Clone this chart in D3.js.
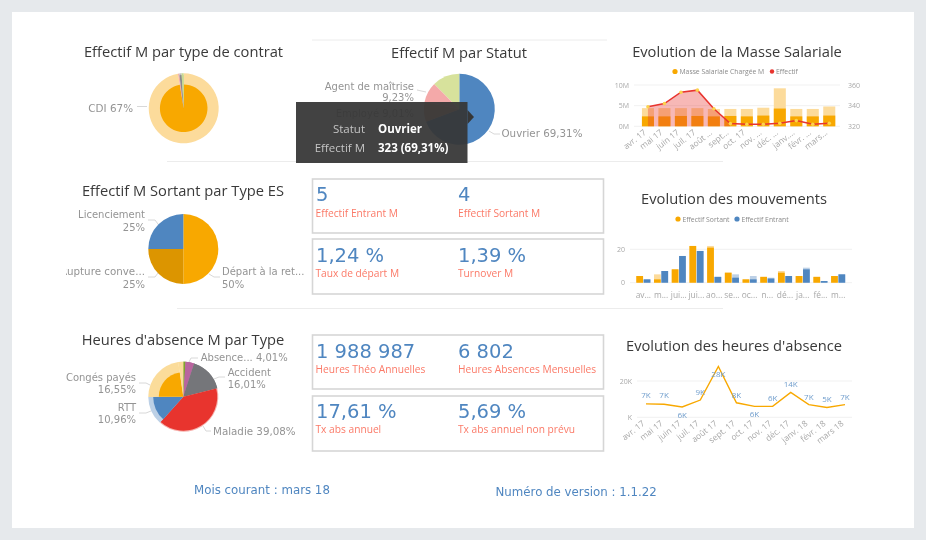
<!DOCTYPE html>
<html>
<head>
<meta charset="utf-8">
<script src="https://cdn.jsdelivr.net/npm/d3@7"></script>
<style>
  html, body { margin: 0; padding: 0; background: #e6e9ec; }
  svg { display: block; filter: blur(0.35px); }
  .title { font-family: "Open Sans", sans-serif; font-size: 14.7px; fill: #3a3a3a; text-anchor: middle; }
  .lbl { font-family: "DejaVu Sans", sans-serif; font-size: 10px; fill: #949494; }
  .kpi { font-family: "DejaVu Sans", sans-serif; font-size: 19.5px; fill: #4f86c0; }
  .kpil { font-family: "Open Sans", sans-serif; font-size: 10.2px; fill: #fb7a68; }
  .foot { font-family: "DejaVu Sans", sans-serif; font-size: 11.8px; fill: #4f86c0; }
  .leg { font-family: "Open Sans", sans-serif; font-size: 6.8px; fill: #8a8a8a; }
  .axis text { font-family: "Open Sans", sans-serif; font-size: 8.4px; fill: #a8a8a8; }
  .axis.yax text { font-size: 7px; }
</style>
</head>
<body>
<svg id="page" width="926" height="540"></svg>
<script>
// data
const months = ["avr. 17", "mai 17", "juin 17", "juil. 17", "août 17", "sept. 17", "oct. 17", "nov. 17", "déc. 17", "janv. 18", "févr. 18", "mars 18"];
const monthsShort1 = ["avr. 17", "mai 17", "juin 17", "juil. 17", "août ...", "sept...", "oct. 17", "nov. ...", "déc. ...", "janv....", "févr. ...", "mars..."];
const monthsShort2 = ["av...", "m...", "jui...", "jui...", "ao...", "se...", "oc...", "n...", "dé...", "ja...", "fé...", "m..."];

const masseTotal = [4.4, 4.4, 4.4, 4.4, 4.2, 4.2, 4.2, 4.5, 9.2, 4.2, 4.2, 4.8];
const masseSel = [2.4, 2.4, 2.5, 2.5, 2.4, 2.5, 2.4, 2.6, 4.3, 2.4, 2.4, 2.6];
const effectif = [339, 342, 353, 355, 337, 322.6, 322, 322, 323, 325.5, 322, 323];

const sortantTotal = [4, 5, 8, 22, 22, 6, 2, 3.5, 7, 4, 3.5, 4];
const sortantSel = [4, 2, 8, 22, 21, 6, 2, 3.5, 6, 4, 3.5, 4];
const entrantTotal = [2, 7, 16, 19, 3.5, 5, 4, 3, 4, 9, 1, 5];
const entrantSel = [2, 7, 16, 19, 3.5, 3, 2, 2.5, 4, 8, 1, 5];

const absences = [7.4, 7.2, 5.7, 9.5, 28, 8, 6, 6, 13.7, 7, 5.4, 7];
const absenceLabels = ["7K", "7K", "6K", "9K", "28K", "8K", "6K", "6K", "14K", "7K", "5K", "7K"];
const absenceLabelDy = [-6, -6, 11, -5, 11, -5, 11, -5, -5, -5, -5, -5];

const contratValues = [97.4, 0.6, 1.0, 1.0];
const contratColors = ["#f8a800", "#f4a6a6", "#8a8a8a", "#c8d890"];
const statutValues = [69.31, 9.01, 9.23, 12.45];
const statutColors = ["#4f86c0", "#e6a08c", "#f4a9a9", "#d7e29c"];
const sortieValues = [50, 25, 25];
const sortieColors = ["#f8a800", "#dc9500", "#4f86c0"];
const heuresValues = [1.0, 4.0, 16.1, 40.5, 13.3, 22.8, 2.3];
const heuresColors = ["#7fa52c", "#b9659f", "#75767a", "#e8342e", "#4f86c0", "#f8a800", "#fbdc9a"];
const heuresLight = ["#7fa52c", "#b9659f", "#75767a", "#f6b0ac", "#bcd0e6", "#fbdc9a", "#fbdc9a"];
const heuresInner = [1, 1, 1, 0.97, 0.86, 0.7, 1];

const kpiValues = ["5", "4", "1,24 %", "1,39 %", "1 988 987", "6 802", "17,61 %", "5,69 %"];
const kpiLabels = ["Effectif Entrant M", "Effectif Sortant M", "Taux de départ M", "Turnover M", "Heures Théo Annuelles", "Heures Absences Mensuelles", "Tx abs annuel", "Tx abs annuel non prévu"];

const svg = d3.select("#page");
svg.append("rect").attr("x", 12).attr("y", 12).attr("width", 902).attr("height", 516).attr("fill", "#fff");

// separators
[[312, 607, 40], [167, 723, 161.5], [177, 723, 308.5]].forEach(function (s) {
    svg.append("line").attr("x1", s[0]).attr("x2", s[1]).attr("y1", s[2]).attr("y2", s[2])
        .attr("stroke", "#ececec").attr("stroke-width", 1);
});

function title(txt, x, y) {
    svg.append("text").attr("class", "title").attr("x", x).attr("y", y).text(txt);
}
title("Effectif M par type de contrat", 183.5, 57);
title("Effectif M par Statut", 459, 58);
title("Evolution de la Masse Salariale", 737, 57);
title("Effectif M Sortant par Type ES", 183, 196);
title("Evolution des mouvements", 734, 204);
title("Heures d'absence M par Type", 183, 345);
title("Evolution des heures d'absence", 734, 351);

function label(parent, txt, x, y, anchor) {
    return parent.append("text").attr("class", "lbl").attr("x", x).attr("y", y)
        .attr("text-anchor", anchor || "start").text(txt);
}
function leader(parent, pts) {
    parent.append("path").attr("d", d3.line()(pts)).attr("fill", "none")
        .attr("stroke", "#d8d8d8").attr("stroke-width", 1);
}

// pies
function drawPie(cx, cy, values, colors, light, inner, r) {
    const g = svg.append("g").attr("transform", "translate(" + cx + "," + cy + ")");
    const arcs = d3.pie().sort(null)(values);
    g.selectAll("path.full").data(arcs).enter().append("path").attr("class", "full")
        .attr("d", d3.arc().innerRadius(0).outerRadius(r))
        .attr("fill", function (d, i) { return light ? light[i] : colors[i]; });
    if (inner) {
        g.selectAll("path.sel").data(arcs).enter().append("path").attr("class", "sel")
            .attr("d", function (d, i) { return d3.arc().innerRadius(0).outerRadius(r * inner[i])(d); })
            .attr("fill", function (d, i) { return colors[i]; });
    }
}
drawPie(183.7, 108.3, contratValues, contratColors,
    ["#fcdb9b", "#f4a6a6", "#bcbcbc", "#c8d890"], [0.68, 0.68, 0.95, 0.95], 35);
drawPie(459.3, 109.3, statutValues, statutColors, null, null, 35.5);
drawPie(183.3, 249, sortieValues, sortieColors, null, null, 35);
drawPie(183.3, 396.7, heuresValues, heuresColors, heuresLight, heuresInner, 35);

label(svg, "CDI 67%", 133, 111.5, "end").style("font-size", "10.4px");
leader(svg, [[137, 106.5], [147, 106.5]]);

label(svg, "Agent de maîtrise", 414, 89.5, "end");
label(svg, "9,23%", 414, 101, "end");
leader(svg, [[417, 90], [426, 92]]);
label(svg, "Employé 9,01%", 414, 117, "end");
label(svg, "Ouvrier 69,31%", 501.5, 137).style("font-size", "10.3px");
leader(svg, [[489, 131], [494, 134], [500, 134]]);

const clipRupture = svg.append("clipPath").attr("id", "clipRupture");
clipRupture.append("rect").attr("x", 66).attr("y", 260).attr("width", 90).attr("height", 20);
label(svg, "Licenciement", 145, 218, "end");
label(svg, "25%", 145, 231, "end");
leader(svg, [[148, 220], [155, 220], [158, 224]]);
label(svg, "Rupture conve...", 145, 275, "end").attr("clip-path", "url(#clipRupture)").style("font-size", "10.3px");
label(svg, "25%", 145, 288, "end");
leader(svg, [[148, 277], [155, 277], [158, 273]]);
label(svg, "Départ à la ret...", 222, 275);
label(svg, "50%", 222, 288);
leader(svg, [[209, 274], [214, 277], [220, 277]]);

label(svg, "Absence... 4,01%", 200.7, 361);
leader(svg, [[189, 362], [191, 358], [198, 358]]);
label(svg, "Accident", 227.7, 376);
label(svg, "16,01%", 227.7, 388);
leader(svg, [[214, 379], [219, 377], [225, 377]]);
label(svg, "Maladie 39,08%", 213, 435).style("font-size", "10.3px");
leader(svg, [[203, 426], [206, 431], [211, 431]]);
label(svg, "Congés payés", 136, 381, "end");
label(svg, "16,55%", 136, 393, "end");
leader(svg, [[139, 383], [146, 383], [150, 385]]);
label(svg, "RTT", 136, 411, "end");
label(svg, "10,96%", 136, 423, "end");
leader(svg, [[139, 413], [146, 413], [151, 411]]);

// tooltip goes over pie 2
svg.append("rect").attr("x", 296).attr("y", 102).attr("width", 171.5).attr("height", 61)
    .attr("fill", "#363636").attr("fill-opacity", 0.94);
svg.append("path").attr("d", "M467.5,110L474,117L467.5,124Z").attr("fill", "#363636");
function tip(txt, x, y, anchor, col, weight) {
    svg.append("text").attr("x", x).attr("y", y).attr("text-anchor", anchor)
        .attr("fill", col).attr("font-weight", weight)
        .attr("font-family", "'Open Sans', sans-serif").attr("font-size", 11.5).text(txt);
}
tip("Statut", 365, 133, "end", "#c4c4c4", 400);
tip("Ouvrier", 378, 133, "start", "#fff", 700);
tip("Effectif M", 365, 152, "end", "#c4c4c4", 400);
tip("323 (69,31%)", 378, 152, "start", "#fff", 700);

// KPI cards
const cardY = [179, 239, 335, 396];
const cardH = [54, 55, 54, 55];
const valueY = [201, 262, 358, 418];
const labelY = [216.5, 277, 372.5, 433];
cardY.forEach(function (y, i) {
    svg.append("rect").attr("x", 312.5).attr("y", y).attr("width", 291).attr("height", cardH[i])
        .attr("fill", "none").attr("stroke", "#d6d6d6").attr("stroke-width", 1.6);
    [0, 1].forEach(function (c) {
        const x = c === 0 ? 316 : 458;
        svg.append("text").attr("class", "kpi").attr("x", x).attr("y", valueY[i]).text(kpiValues[i * 2 + c]);
        svg.append("text").attr("class", "kpil").attr("x", c === 0 ? 315.5 : 458).attr("y", labelY[i]).text(kpiLabels[i * 2 + c]);
    });
});

svg.append("text").attr("class", "foot").attr("x", 194).attr("y", 493.5).text("Mois courant : mars 18");
svg.append("text").attr("class", "foot").attr("x", 495.5).attr("y", 496).text("Numéro de version : 1.1.22");

function hideDomain(g) {
    g.select(".domain").remove();
    g.selectAll(".tick line").remove();
}
function rotateLabels(g) {
    g.selectAll(".tick text").attr("text-anchor", "end").attr("dx", 0).attr("dy", 0)
        .attr("transform", "translate(-3,5) rotate(-38)");
}
function grid(scale, ticks, x1, x2) {
    ticks.forEach(function (t) {
        svg.append("line").attr("x1", x1).attr("x2", x2).attr("y1", scale(t)).attr("y2", scale(t))
            .attr("stroke", "#f1f1f1");
    });
}

// Masse salariale
const x1 = d3.scaleBand().domain(d3.range(12)).range([639.7, 837.5]).paddingInner(0.27).paddingOuter(0.135);
const y1 = d3.scaleLinear().domain([0, 10]).range([126.3, 85]);
const y1r = d3.scaleLinear().domain([320, 360]).range([126.3, 85]);
grid(y1, [0, 5, 10], 634, 840);
svg.selectAll("rect.mt").data(masseTotal).enter().append("rect").attr("class", "mt")
    .attr("x", function (d, i) { return x1(i); }).attr("width", x1.bandwidth())
    .attr("y", function (d) { return y1(d); }).attr("height", function (d) { return y1(0) - y1(d); })
    .attr("fill", "#fcdb9b");
svg.selectAll("rect.ms").data(masseSel).enter().append("rect").attr("class", "ms")
    .attr("x", function (d, i) { return x1(i); }).attr("width", x1.bandwidth())
    .attr("y", function (d) { return y1(d); }).attr("height", function (d) { return y1(0) - y1(d); })
    .attr("fill", "#f8a800");
const mid1 = function (i) { return x1(i) + x1.bandwidth() / 2; };
const effArea = d3.area().x(function (d) { return mid1(d); })
    .y0(y1r(320)).y1(function (d) { return y1r(effectif[d]); });
svg.append("path").attr("d", effArea(d3.range(6))).attr("fill", "#e8342e").attr("fill-opacity", 0.35);
const effLine = d3.line().x(function (d) { return mid1(d); }).y(function (d) { return y1r(effectif[d]); });
svg.append("path").attr("d", effLine(d3.range(12))).attr("fill", "none").attr("stroke", "#e8342e").attr("stroke-width", 1.5);
svg.selectAll("circle.e").data(d3.range(12)).enter().append("circle").attr("class", "e")
    .attr("cx", mid1).attr("cy", function (d) { return y1r(effectif[d]); }).attr("r", 1.8).attr("fill", "#fbd34d");
svg.append("g").attr("class", "axis").attr("transform", "translate(0,126.3)")
    .call(d3.axisBottom(x1).tickFormat(function (i) { return monthsShort1[i]; }).tickSize(0))
    .call(hideDomain).call(rotateLabels);
svg.append("g").attr("class", "axis yax").attr("transform", "translate(632,0)")
    .call(d3.axisLeft(y1).tickValues([0, 5, 10]).tickFormat(function (d) { return d + "M"; }).tickSize(0))
    .call(hideDomain);
svg.append("g").attr("class", "axis yax").attr("transform", "translate(845,0)")
    .call(d3.axisRight(y1r).tickValues([320, 340, 360]).tickSize(0))
    .call(hideDomain);
svg.append("circle").attr("cx", 675).attr("cy", 71.5).attr("r", 2.6).attr("fill", "#f8a800");
svg.append("text").attr("class", "leg").attr("x", 679.5).attr("y", 74).text("Masse Salariale Chargée M");
svg.append("circle").attr("cx", 772).attr("cy", 71.5).attr("r", 2.2).attr("fill", "#e8342e");
svg.append("text").attr("class", "leg").attr("x", 776).attr("y", 74).text("Effectif");

// Mouvements
const x2 = d3.scaleBand().domain(d3.range(12)).range([634.5, 847]).paddingInner(0.17).paddingOuter(0.085);
const x2s = d3.scaleBand().domain([0, 1]).range([0, x2.bandwidth()]).paddingInner(0);
const y2 = d3.scaleLinear().domain([0, 20]).range([282.7, 249.3]);
grid(y2, [0, 20], 630, 852);
function movBars(vals, col, serie, cls) {
    svg.selectAll("rect." + cls).data(vals).enter().append("rect").attr("class", cls)
        .attr("x", function (d, i) { return x2(i) + x2s(serie) + 0.3; }).attr("width", x2s.bandwidth() - 0.6)
        .attr("y", function (d) { return y2(d); }).attr("height", function (d) { return y2(0) - y2(d); })
        .attr("fill", col);
}
movBars(sortantTotal, "#fcdb9b", 0, "st");
movBars(sortantSel, "#f8a800", 0, "ss");
movBars(entrantTotal, "#bcd0e6", 1, "et");
movBars(entrantSel, "#4f86c0", 1, "es");
svg.append("g").attr("class", "axis").attr("transform", "translate(0,289)")
    .call(d3.axisBottom(x2).tickFormat(function (i) { return monthsShort2[i]; }).tickSize(0).tickPadding(3))
    .call(hideDomain);
svg.append("g").attr("class", "axis yax").attr("transform", "translate(628,0)")
    .call(d3.axisLeft(y2).tickValues([0, 20]).tickSize(0))
    .call(hideDomain);
svg.append("circle").attr("cx", 678).attr("cy", 219).attr("r", 2.6).attr("fill", "#f8a800");
svg.append("text").attr("class", "leg").attr("x", 682.5).attr("y", 221.5).text("Effectif Sortant");
svg.append("circle").attr("cx", 737).attr("cy", 219).attr("r", 2.6).attr("fill", "#4f86c0");
svg.append("text").attr("class", "leg").attr("x", 741.5).attr("y", 221.5).text("Effectif Entrant");

// Heures d'absence
const x3 = d3.scalePoint().domain(d3.range(12)).range([646, 845]);
const y3 = d3.scaleLinear().domain([0, 20]).range([417.3, 381]);
grid(y3, [0, 20], 637, 852);
const absLine = d3.line().x(function (d, i) { return x3(i); }).y(function (d) { return y3(d); });
svg.append("path").attr("d", absLine(absences)).attr("fill", "none").attr("stroke", "#f8a800").attr("stroke-width", 1.4);
svg.selectAll("text.ab").data(absenceLabels).enter().append("text").attr("class", "ab")
    .attr("x", function (d, i) { return x3(i); })
    .attr("y", function (d, i) { return y3(absences[i]) + absenceLabelDy[i]; })
    .attr("text-anchor", "middle").attr("font-family", "'Open Sans', sans-serif").attr("font-size", 8)
    .attr("fill", "#6f9dcc").text(function (d) { return d; });
svg.append("g").attr("class", "axis").attr("transform", "translate(0,417.3)")
    .call(d3.axisBottom(x3).tickFormat(function (i) { return months[i]; }).tickSize(0))
    .call(hideDomain).call(rotateLabels);
svg.append("g").attr("class", "axis yax").attr("transform", "translate(635,0)")
    .call(d3.axisLeft(y3).tickValues([0, 20]).tickFormat(function (d) { return d === 0 ? "K" : d + "K"; }).tickSize(0))
    .call(hideDomain);
</script>
</body>
</html>
